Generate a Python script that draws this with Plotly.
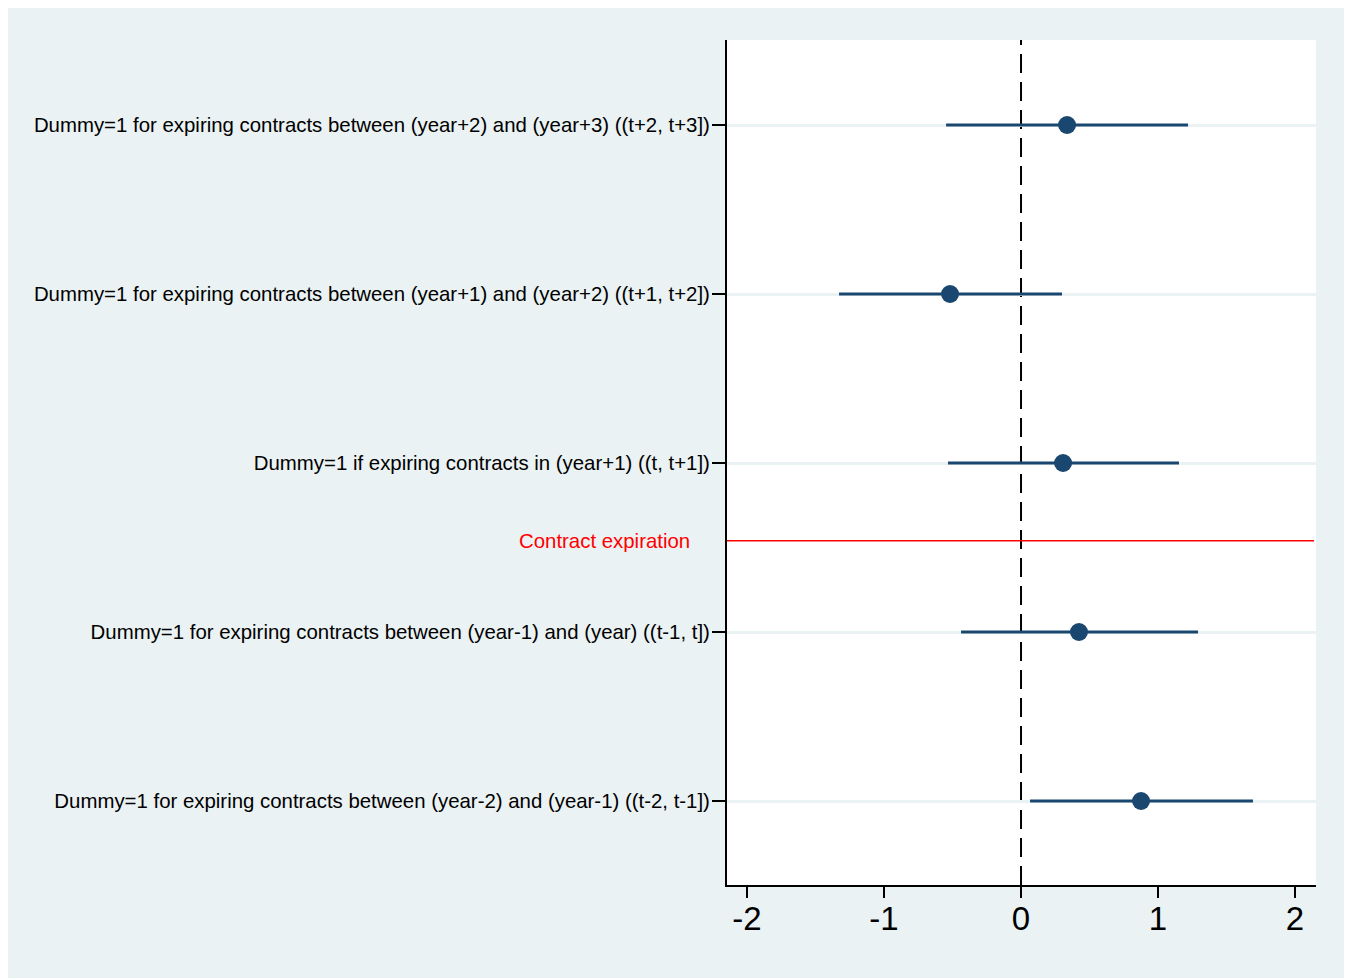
import plotly.graph_objects as go

labels = [
    "Dummy=1 for expiring contracts between (year-2) and (year-1) ((t-2, t-1])",
    "Dummy=1 for expiring contracts between (year-1) and (year) ((t-1, t])",
    "Dummy=1 if expiring contracts in (year+1) ((t, t+1])",
    "Dummy=1 for expiring contracts between (year+1) and (year+2) ((t+1, t+2])",
    "Dummy=1 for expiring contracts between (year+2) and (year+3) ((t+2, t+3])",
]
positions = [1, 2, 3, 4, 5]
estimates = [0.876, 0.423, 0.307, -0.518, 0.336]
ci_low = [0.066, -0.438, -0.533, -1.328, -0.547]
ci_high = [1.693, 1.292, 1.153, 0.299, 1.219]
x_ticks = [-2, -1, 0, 1, 2]
divider_y = 2.54
divider_label = "Contract expiration"

navy = "#1A476F"
bg = "#EAF2F3"

fig = go.Figure()
fig.add_trace(go.Scatter(
    x=estimates, y=positions, mode="markers",
    marker=dict(size=18, color=navy),
    error_x=dict(type="data", symmetric=False,
                 array=[h - e for h, e in zip(ci_high, estimates)],
                 arrayminus=[e - l for e, l in zip(estimates, ci_low)],
                 width=0, thickness=3, color=navy),
    showlegend=False, hoverinfo="x+y",
))

fig.add_shape(type="line", xref="x", yref="paper", x0=0, x1=0, y0=0, y1=1,
              line=dict(color="black", width=2, dash="19px,9px"), layer="below")
fig.add_shape(type="line", xref="paper", yref="y", x0=0, x1=0.9966, y0=divider_y, y1=divider_y,
              line=dict(color="red", width=1.5))
fig.add_annotation(xref="paper", yref="y", x=0, y=divider_y, text=divider_label,
                   showarrow=False, xanchor="right", yanchor="middle", xshift=-35,
                   font=dict(color="red", size=20.4, family="Liberation Sans, Arial"))

W, H = 1352, 978
fig.update_layout(
    width=W, height=H,
    margin=dict(l=719, r=44, t=32, b=101),
    paper_bgcolor=bg, plot_bgcolor="white",
    font=dict(family="Liberation Sans, Arial", color="black"),
    xaxis=dict(range=[-2.146, 2.153], tickvals=x_ticks, ticktext=[str(v) for v in x_ticks],
               showgrid=False, zeroline=False, showline=True, linecolor="black", linewidth=2,
               ticks="outside", ticklen=11, tickwidth=1.5, tickcolor="black",
               ticklabelstandoff=-8,
               tickfont=dict(size=33)),
    yaxis=dict(range=[0.503, 5.503], tickvals=positions, ticktext=labels,
               showgrid=True, gridcolor=bg, gridwidth=3, zeroline=False,
               showline=True, linecolor="black", linewidth=2,
               ticks="outside", ticklen=13, tickwidth=1.5, tickcolor="black",
               ticklabelstandoff=-2,
               tickfont=dict(size=20.4)),
)

fig.write_html("out.html")
